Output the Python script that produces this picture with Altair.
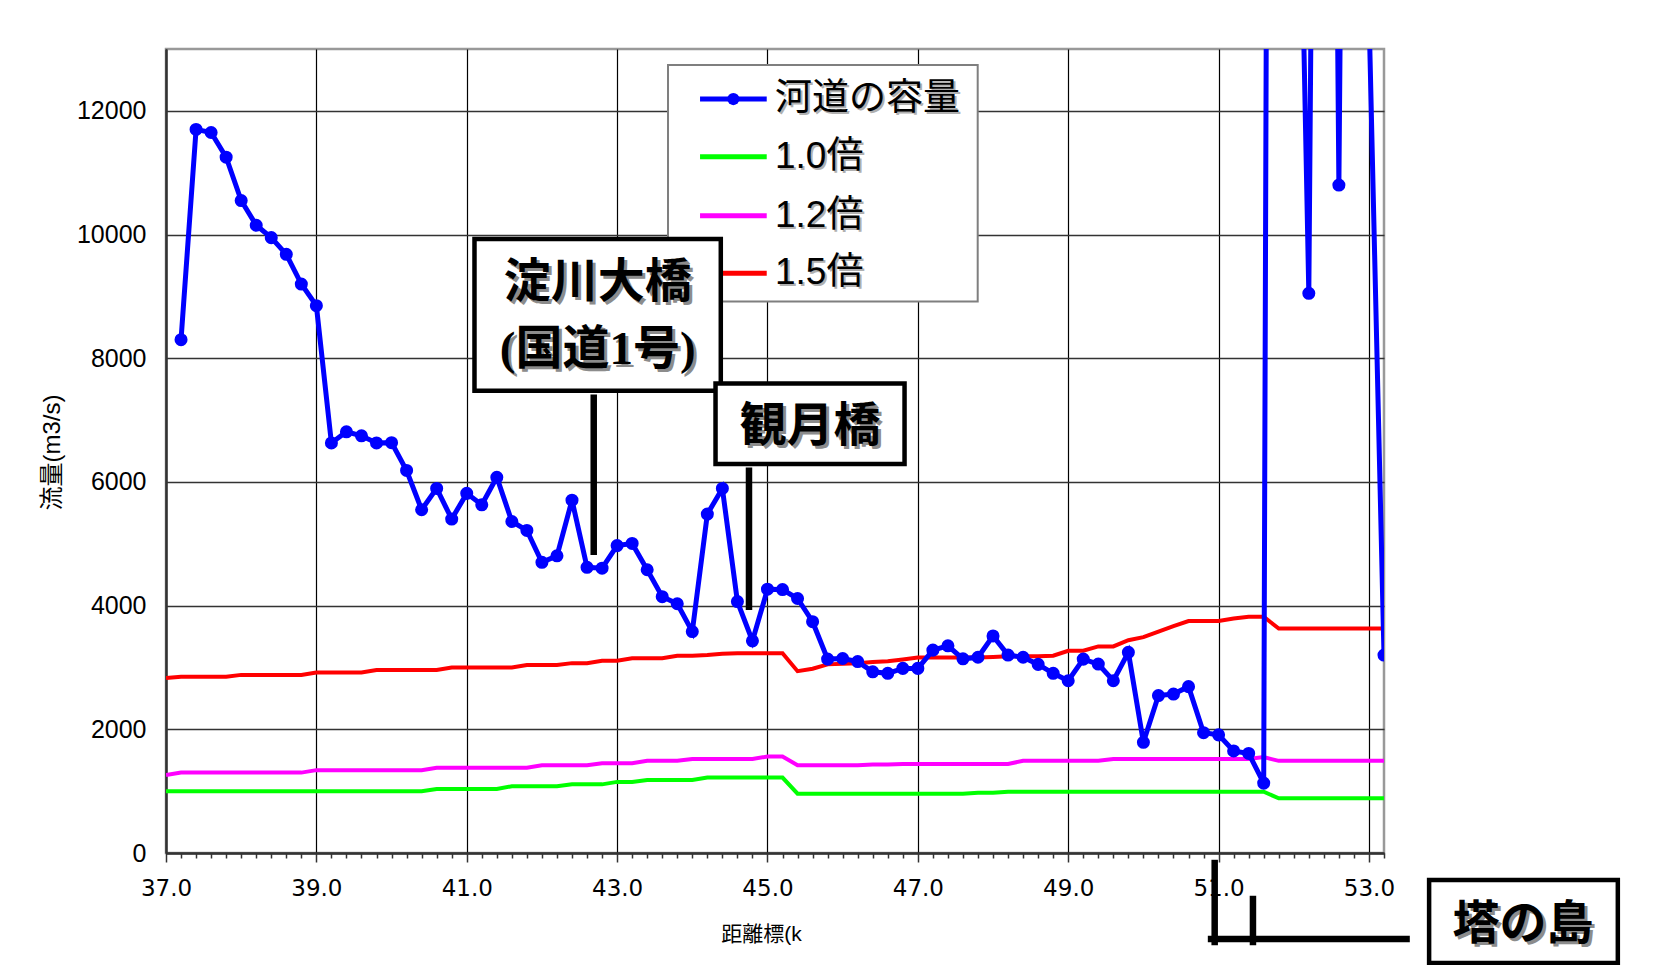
import altair as alt
import pandas as pd

# ---------------- data ----------------
km = [37.0, 37.2, 37.4, 37.6, 37.8, 38.0, 38.2, 38.4, 38.6, 38.8,
      39.0, 39.2, 39.4, 39.6, 39.8, 40.0, 40.2, 40.4, 40.6, 40.8,
      41.0, 41.2, 41.4, 41.6, 41.8, 42.0, 42.2, 42.4, 42.6, 42.8,
      43.0, 43.2, 43.4, 43.6, 43.8, 44.0, 44.2, 44.4, 44.6, 44.8,
      45.0, 45.2, 45.4, 45.6, 45.8, 46.0, 46.2, 46.4, 46.6, 46.8,
      47.0, 47.2, 47.4, 47.6, 47.8, 48.0, 48.2, 48.4, 48.6, 48.8,
      49.0, 49.2, 49.4, 49.6, 49.8, 50.0, 50.2, 50.4, 50.6, 50.8,
      51.0, 51.2, 51.4, 51.6, 51.8, 52.0, 52.2, 52.4, 52.6, 52.8,
      53.0, 53.2]

capacity = [None, 8300, 11700, 11650, 11250, 10550, 10150, 9950, 9680, 9200,
            8850, 6630, 6810, 6745, 6630, 6635, 6185, 5550, 5895, 5400,
            5815, 5630, 6075, 5360, 5215, 4700, 4805, 5705, 4620, 4605,
            4970, 5005, 4580, 4145, 4030, 3580, 5480, 5895, 4065, 3430,
            4265, 4260, 4115, 3740, 3135, 3145, 3095, 2930, 2905, 2985,
            2985, 3280, 3350, 3140, 3165, 3510, 3200, 3165, 3050, 2905,
            2785, 3135, 3055, 2785, 3245, 1790, 2545, 2570, 2690, 1945,
            1910, 1650, 1610, 1130, 73000, 21300, 9050, 39600, 10800, 40000,
            13600, 3200]

x10 = [1000] * 18 + [1035] * 5 + [1080] * 4 + [1110] * 3 + [1150] * 2 + \
      [1180] * 4 + [1220] * 6 + [960] * 12 + [975] * 2 + [990] * 18 + [885] * 8
x12 = [1260] + [1300] * 9 + [1340] * 8 + [1380] * 7 + [1420] * 4 + [1450] * 3 + \
      [1490] * 3 + [1520] * 5 + [1560] * 2 + [1420] * 5 + [1430] * 2 + [1440] * 8 + \
      [1490] * 6 + [1520] * 10 + [1550] + [1490] * 8
x15 = [2830] + [2850] * 4 + [2880] * 5 + [2920] * 4 + [2960] * 5 + [3000] * 5 + \
      [3040] * 3 + [3070] * 2 + [3110] * 2 + [3150] * 3 + [3190] * 2 + [3200] + \
      [3220] + [3230] * 4 + [2940] + [2980] + [3050] + [3060] + [3070] + [3090] + \
      [3100] + [3130] + [3160] * 5 + [3170] + [3180] * 3 + [3190] + [3270] * 2 + \
      [3340] * 2 + [3440] + [3490] + [3580] + [3670] + [3750] * 3 + [3790] + \
      [3820] * 2 + [3630] * 8

series_names = ["河道の容量", "1.0倍", "1.2倍", "1.5倍"]
series_colors = ["#0000FF", "#00FF00", "#FF00FF", "#FF0000"]

# annotation / legend placement (in axis units: km, m3/s)
legend_box = {"km": 43.677, "km2": 47.796, "val": 12741, "val2": 8917}
legend_rows = [12191, 11258, 10304, 9373]
legend_sym = [44.103, 44.99]
legend_dot = 44.546
legend_lab = 45.10

boxes = pd.DataFrame({
    "km": [41.103, 44.309, 53.80],
    "km2": [44.379, 46.823, 56.31],
    "val": [9929, 7591, -437],
    "val2": [7475, 6290, -1779],
})
box_text = pd.DataFrame({
    "label": ["淀川大橋", "(国道1号)", "観月橋", "塔の島"],
    "km": [42.742, 42.742, 45.566, 55.049],
    "val": [9216, 8133, 6880, -1164],
})
pointers = pd.DataFrame({
    "km": [42.689, 44.754, 50.948, 51.457, 50.90],
    "km2": [42.689, 44.754, 50.948, 51.457, 53.50],
    "val": [7362, 6181, -162, -744, -1391],
    "val2": [4872, 3982, -1439, -1439, -1391],
})

# ---------------- tables ----------------
lines_df = pd.DataFrame({
    "km": km * 3,
    "val": x15 + x12 + x10,
    "series": ["1.5倍"] * len(km) + ["1.2倍"] * len(km) + ["1.0倍"] * len(km),
})
cap_df = pd.DataFrame({"km": km, "val": capacity})

leg_df = pd.DataFrame({
    "series": series_names,
    "km": [legend_sym[0]] * 4,
    "km2": [legend_sym[1]] * 4,
    "val": legend_rows,
    "labx": [legend_lab] * 4,
})

MAJOR = "abs((datum.value - 37) / 2 - round((datum.value - 37) / 2)) < 0.01"
LATIN_CJK = "Liberation Sans, Noto Sans CJK JP"
BOLD_FONT = "Liberation Serif, Noto Sans CJK JP"

x_axis = alt.Axis(
    values=km,
    grid=True,
    gridColor="#000000",
    gridWidth=1.2,
    gridOpacity={"condition": {"test": MAJOR, "value": 1}, "value": 0},
    ticks=True,
    tickColor="#333333",
    tickWidth=1.5,
    tickSize={"condition": {"test": MAJOR, "value": 9}, "value": 5},
    labelExpr=f"({MAJOR}) ? format(datum.value, '.1f') : ''",
    labelOverlap=False,
    labelFlush=False,
    labelFont="DejaVu Sans",
    labelFontSize=23,
    labelColor="#000000",
    labelPadding=15,
    domainColor="#333333",
    domainWidth=2.5,
    title="距離標(k",
    titleFont=LATIN_CJK,
    titleFontSize=21,
    titleFontWeight="normal",
    titleColor="#000000",
    titleX=595,
    titleY=81,
    titleBaseline="middle",
    titleAlign="center",
)
y_axis = alt.Axis(
    values=[0, 2000, 4000, 6000, 8000, 10000, 12000],
    format="d",
    grid=True,
    gridColor="#333333",
    gridWidth=1.3,
    ticks=False,
    labelFont="Liberation Sans",
    labelFontSize=25,
    labelColor="#000000",
    labelPadding=20,
    domainColor="#333333",
    domainWidth=2.5,
    title="流量(m3/s)",
    titleFont=LATIN_CJK,
    titleFontSize=24,
    titleFontWeight="normal",
    titleColor="#000000",
    titleAngle=270,
    titleX=-114,
    titleY=403,
    titleAlign="center",
    titleBaseline="middle",
)


def X(field="km"):
    return alt.X(f"{field}:Q", scale=alt.Scale(domain=[37.0, 53.2], nice=False, zero=False), axis=x_axis)


def Y(field="val"):
    return alt.Y(f"{field}:Q", scale=alt.Scale(domain=[0, 13000], nice=False, zero=True), axis=y_axis)


color_scale = alt.Scale(domain=series_names, range=series_colors)

ratio_lines = alt.Chart(lines_df).mark_line(strokeWidth=4, clip=True).encode(
    x=X(), y=Y(),
    color=alt.Color("series:N", scale=color_scale, legend=None),
    detail="series:N",
)

cap_line = alt.Chart(cap_df).mark_line(strokeWidth=5, color="#0000FF", clip=True).encode(x=X(), y=Y())
cap_pts = alt.Chart(cap_df).mark_circle(size=170, color="#0000FF", opacity=1, clip=True).encode(x=X(), y=Y())

# legend (drawn as marks so that the bridge label box can cover it, as in the original)
leg_bg = alt.Chart(pd.DataFrame([legend_box])).mark_rect(
    fill="#FFFFFF", stroke="#7F7F7F", strokeWidth=2
).encode(x=X(), x2="km2:Q", y=Y(), y2="val2:Q")
leg_sym = alt.Chart(leg_df).mark_rule(strokeWidth=5, strokeCap="butt").encode(
    x=X(), x2="km2:Q", y=Y(),
    color=alt.Color("series:N", scale=color_scale, legend=None),
)
leg_dot = alt.Chart(leg_df.iloc[:1].assign(dotx=legend_dot)).mark_circle(size=150, color="#0000FF", opacity=1).encode(
    x=X("dotx"), y=Y()
)
leg_lab_shadow = alt.Chart(leg_df).mark_text(
    align="left", baseline="middle", font=LATIN_CJK, fontSize=37, color="#B0B0B0", dx=2, dy=2
).encode(x=X("labx"), y=Y(), text="series:N")
leg_lab = alt.Chart(leg_df).mark_text(
    align="left", baseline="middle", font=LATIN_CJK, fontSize=37, color="#000000"
).encode(x=X("labx"), y=Y(), text="series:N")

# annotations
box_rects = alt.Chart(boxes).mark_rect(fill="#FFFFFF", stroke="#000000", strokeWidth=4.5).encode(
    x=X(), x2="km2:Q", y=Y(), y2="val2:Q"
)
txt_shadow = alt.Chart(box_text).mark_text(
    align="center", baseline="middle", font=BOLD_FONT, fontWeight="bold", fontSize=47,
    color="#8C8C8C", dx=3, dy=3
).encode(x=X(), y=Y(), text="label:N")
txt_main = alt.Chart(box_text).mark_text(
    align="center", baseline="middle", font=BOLD_FONT, fontWeight="bold", fontSize=47, color="#000000"
).encode(x=X(), y=Y(), text="label:N")
ptr = alt.Chart(pointers).mark_rule(strokeWidth=6.5, color="#000000", strokeCap="square").encode(
    x=X(), x2="km2:Q", y=Y(), y2="val2:Q"
)

chart = alt.layer(
    ratio_lines, cap_line, cap_pts,
    leg_bg, leg_sym, leg_dot, leg_lab_shadow, leg_lab,
    box_rects, txt_shadow, txt_main, ptr,
).properties(
    width=1218,
    height=804,
    autosize=alt.AutoSizeParams(type="none"),
    padding={"left": 158, "top": 41, "right": 272, "bottom": 112},
    background="#FFFFFF",
).configure_view(
    stroke="#999999", strokeWidth=2.5
)

chart.save("out.html", embed_options={"renderer": "svg", "actions": False})
